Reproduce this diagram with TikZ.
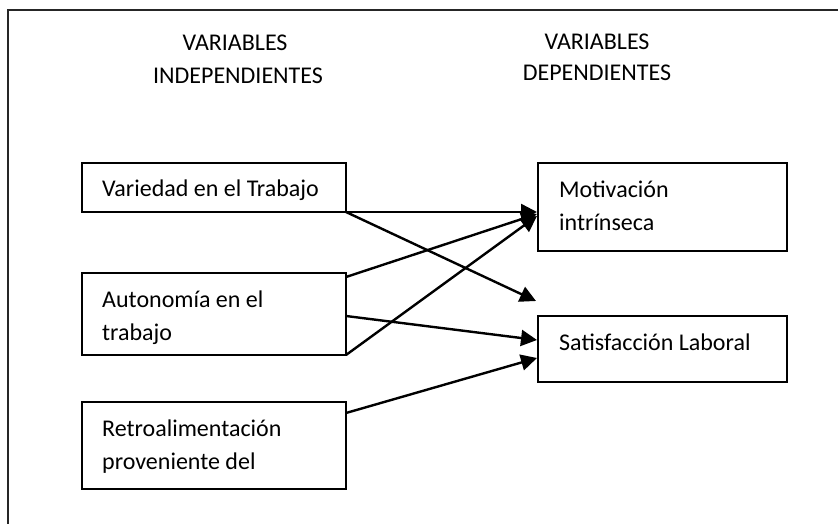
\documentclass[tikz,border=0pt]{standalone}
\usepackage{fontspec}
\setmainfont{Carlito}
\usetikzlibrary{arrows.meta}
\begin{document}
\begin{tikzpicture}[x=1pt,y=-1pt,
  box/.style={draw, line width=2pt, rectangle, inner sep=0pt, minimum width=264pt},
  rbox/.style={box, minimum width=249pt},
  txt/.style={inner sep=0pt, font=\fontsize{24}{33}\selectfont},
  arr/.style={line width=2.4pt, -{Triangle[length=16pt,width=16pt]}}]
\useasboundingbox (0,0) rectangle (838,524);
\clip (0,0) rectangle (838,524);
\fill[white] (0,0) rectangle (838,524);
% frame
\draw[line width=2pt, draw=black!85] (8,540) -- (8,10) -- (860,10);
% titles
\node[txt, anchor=base] (t1) at (235,51) {VARIABLES};
\node[txt, anchor=base] (t2) at (238,84) {INDEPENDIENTES};
\node[txt, anchor=base] (t3) at (597,50) {VARIABLES};
\node[txt, anchor=base] (t4) at (597,81) {DEPENDIENTES};
% boxes
\node[box, minimum height=49pt] (v) at (214,187.5) {};
\node[box, minimum height=82pt] (a) at (214,314) {};
\node[box, minimum height=87pt] (r) at (214,445.5) {};
\node[rbox, minimum height=88pt] (m) at (662.5,207) {};
\node[rbox, minimum height=66pt] (s) at (662.5,349) {};
% texts
\node[txt, anchor=base west] (vt) at (102,196) {Variedad en el Trabajo};
\node[txt, anchor=base west] (at1) at (102,307) {Autonomía en el};
\node[txt, anchor=base west] (at2) at (102,340) {trabajo};
\node[txt, anchor=base west] (rt1) at (102,436) {Retroalimentación};
\node[txt, anchor=base west] (rt2) at (102,469) {proveniente del};
\node[txt, anchor=base west] (mt1) at (559,197) {Motivación};
\node[txt, anchor=base west] (mt2) at (559,230) {intrínseca};
\node[txt, anchor=base west] (st) at (559,350) {Satisfacción Laboral};
% connector points
\coordinate (v1) at (346,212);
\coordinate (a1) at (346,277);
\coordinate (a2) at (346,316);
\coordinate (a3) at (346,355);
\coordinate (r1) at (346,413);
\coordinate (m1) at (537,212);
\coordinate (m2) at (537,214);
\coordinate (m3) at (537,216);
\coordinate (s1) at (537,340);
\coordinate (s2) at (537,358);
\coordinate (free) at (536,301);
% arrows
\draw[arr] (v1) -- (m1);
\draw[arr] (v1) -- (free);
\draw[arr] (a1) -- (m2);
\draw[arr] (a2) -- (s1);
\draw[arr] (a3) -- (m3);
\draw[arr] (r1) -- (s2);
\end{tikzpicture}
\end{document}
